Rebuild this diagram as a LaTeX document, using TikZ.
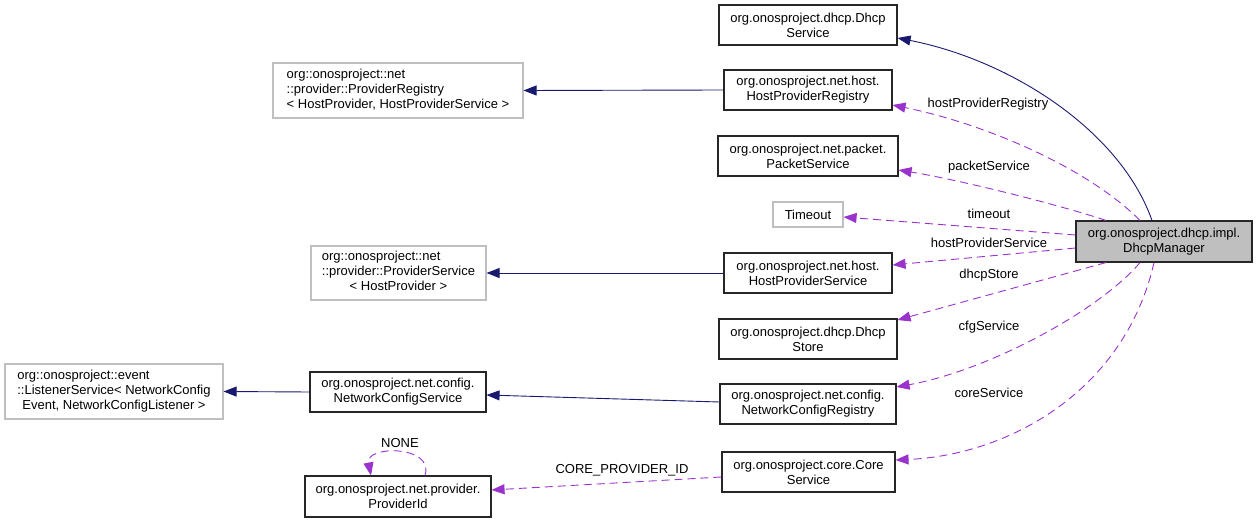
\documentclass[tikz,border=0pt]{standalone}
\usepackage{fontspec}
\setmainfont{Liberation Sans}
\usetikzlibrary{arrows.meta}
\definecolor{navy}{HTML}{191970}
\definecolor{orchid}{HTML}{9A32CD}
\definecolor{boxgray}{HTML}{BFBFBF}
\begin{document}
\begin{tikzpicture}[x=1pt,y=-1pt,
  every node/.style={font=\fontsize{13}{15}\selectfont},
  cls/.style={draw=black!85, line width=1.1pt, align=center, inner sep=2pt},
  ext/.style={draw=boxgray, line width=1.1pt, inner sep=2pt},
  mgrbox/.style={cls, fill=boxgray},
  inh/.style={draw=navy, line width=0.9pt, -{Triangle[length=13pt,width=10pt]}},
  use/.style={draw=orchid, line width=0.9pt, dash pattern=on 8pt off 5pt, -{Triangle[length=13pt,width=10pt]}},
  lbl/.style={inner sep=0pt}
]
\useasboundingbox (0,0) rectangle (1256,521);

% class boxes
\node[cls, minimum width=178pt, minimum height=40pt] (dsvc) at (808,25) {org.onosproject.dhcp.Dhcp\\Service};
\node[cls, minimum width=168pt, minimum height=40pt] (hpreg) at (808,90) {org.onosproject.net.host.\\HostProviderRegistry};
\node[ext, minimum width=250pt, minimum height=55pt] (preg) at (398,90.5) {\begin{tabular}{@{}l@{}}org::onosproject::net\\::provider::ProviderRegistry\\\multicolumn{1}{@{}c@{}}{< HostProvider, HostProviderService >}\end{tabular}};
\node[cls, minimum width=180pt, minimum height=40pt] (pkt) at (808,156) {org.onosproject.net.packet.\\PacketService};
\node[ext, minimum width=70pt, minimum height=25pt] (tmo) at (808,214.5) {Timeout};
\node[mgrbox, minimum width=176pt, minimum height=41pt] (mgr) at (1164,241.5) {org.onosproject.dhcp.impl.\\DhcpManager};
\node[ext, minimum width=175pt, minimum height=54pt] (psvc) at (398.5,273) {\begin{tabular}{@{}l@{}}org::onosproject::net\\::provider::ProviderService\\\multicolumn{1}{@{}c@{}}{< HostProvider >}\end{tabular}};
\node[cls, minimum width=168pt, minimum height=40pt] (hpsvc) at (808,273) {org.onosproject.net.host.\\HostProviderService};
\node[cls, minimum width=178pt, minimum height=40pt] (dstore) at (808,339) {org.onosproject.dhcp.Dhcp\\Store};
\node[ext, minimum width=218pt, minimum height=55pt] (lsvc) at (114,391.5) {\begin{tabular}{@{}l@{}}org::onosproject::event\\::ListenerService< NetworkConfig\\\multicolumn{1}{@{}c@{}}{Event, NetworkConfigListener >}\end{tabular}};
\node[cls, minimum width=176pt, minimum height=40pt] (ncs) at (398,392) {org.onosproject.net.config.\\NetworkConfigService};
\node[cls, minimum width=176pt, minimum height=40pt] (ncr) at (808,404) {org.onosproject.net.config.\\NetworkConfigRegistry};
\node[cls, minimum width=173pt, minimum height=40pt] (core) at (808.5,472) {org.onosproject.core.Core\\Service};
\node[cls, minimum width=186pt, minimum height=41pt] (pid) at (398,496.5) {org.onosproject.net.provider.\\ProviderId};

% inheritance edges
\draw[inh] ([xshift=-12pt]mgr.north) .. controls (1120,130) and (1010,60) .. ([yshift=-13pt]dsvc.east);
\draw[inh] (hpreg.west) -- (preg.east);
\draw[inh] (hpsvc.west) -- (psvc.east);
\draw[inh] ([yshift=2pt]ncr.west) -- ([yshift=-3pt]ncs.east);
\draw[inh] (ncs.west) -- (lsvc.east);

% usage edges
\draw[use] ([xshift=-24pt]mgr.north) .. controls (1090,170) and (990,125) .. ([yshift=-15pt]hpreg.east);
\draw[use] ([xshift=-58pt]mgr.north) .. controls (1060,205) and (960,180) .. ([yshift=-14pt]pkt.east);
\draw[use] ([yshift=6.5pt]mgr.west) -- ([yshift=-2.5pt]tmo.east);
\draw[use] ([yshift=-6.5pt]mgr.west) -- ([yshift=8pt]hpsvc.east);
\draw[use] ([xshift=-58pt]mgr.south) -- ([yshift=19pt]dstore.east);
\draw[use] ([xshift=-24pt]mgr.south) .. controls (1100,310) and (990,370) .. ([yshift=17pt]ncr.east);
\draw[use] ([xshift=-10pt]mgr.south) .. controls (1125,390) and (1010,455) .. ([yshift=12pt]core.east);
\draw[use] ([yshift=-5pt]core.west) -- ([yshift=6.5pt]pid.east);
\draw[use] ([xshift=27pt]pid.north) .. controls (435,445) and (365,445) .. ([xshift=-27pt]pid.north);

% labels
\node[lbl] (l1) at (988,104) {hostProviderRegistry};
\node[lbl] (l2) at (989,167) {packetService};
\node[lbl] (l3) at (989,214) {timeout};
\node[lbl] (l4) at (989,243) {hostProviderService};
\node[lbl] (l5) at (989,275) {dhcpStore};
\node[lbl] (l6) at (989,327) {cfgService};
\node[lbl] (l7) at (989,393) {coreService};
\node[lbl] (l8) at (622,470) {CORE\_PROVIDER\_ID};
\node[lbl] (l9) at (400,443) {NONE};
\end{tikzpicture}
\end{document}
